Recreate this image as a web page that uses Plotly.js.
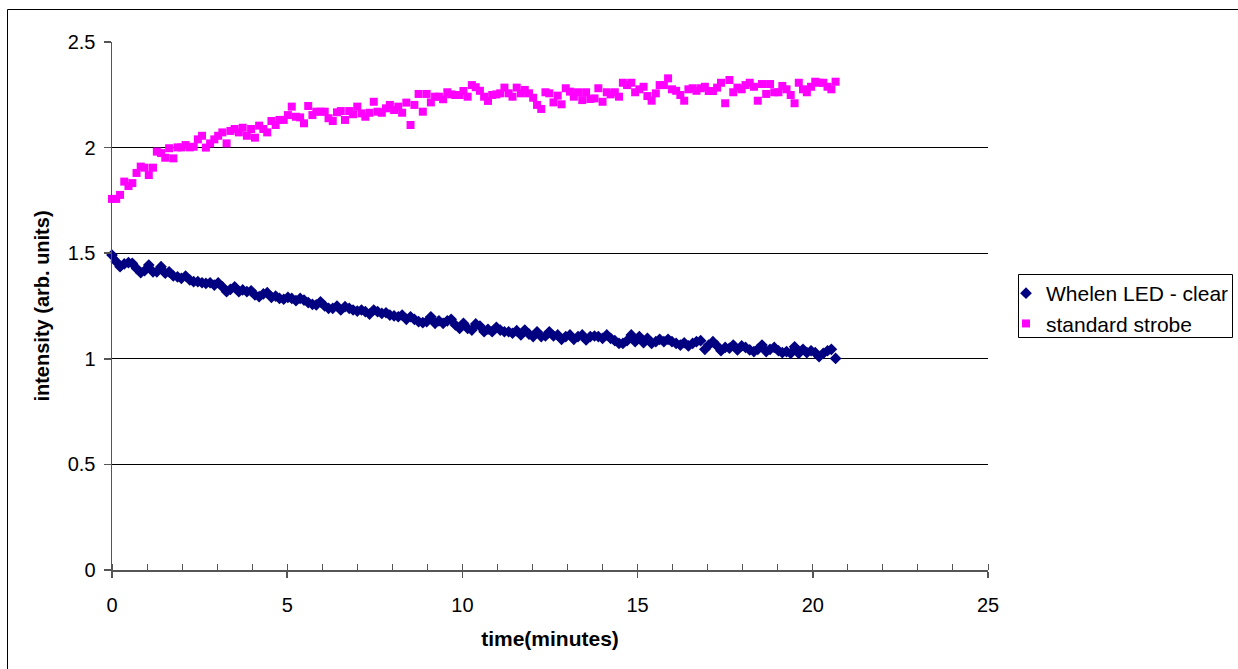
<!DOCTYPE html>
<html>
<head>
<meta charset="utf-8">
<script src="https://cdn.plot.ly/plotly-3.0.1.min.js"></script>
<style>
html,body{margin:0;padding:0;background:#fff;}
#chart{width:1238px;height:669px;}
</style>
</head>
<body>
<div id="chart"></div>
<script>
// time in minutes (one sample every 7 s)
const timeMinutes = [
  0.00,0.12,0.23,0.35,0.47,0.58, 0.70,0.82,0.93,1.05,1.17,1.28,
  1.40,1.52,1.63,1.75,1.87,1.98, 2.10,2.22,2.33,2.45,2.57,2.68,
  2.80,2.92,3.03,3.15,3.27,3.38, 3.50,3.62,3.73,3.85,3.97,4.08,
  4.20,4.32,4.43,4.55,4.67,4.78, 4.90,5.02,5.13,5.25,5.37,5.48,
  5.60,5.72,5.83,5.95,6.07,6.18, 6.30,6.42,6.53,6.65,6.77,6.88,
  7.00,7.12,7.23,7.35,7.47,7.58, 7.70,7.82,7.93,8.05,8.17,8.28,
  8.40,8.52,8.63,8.75,8.87,8.98, 9.10,9.22,9.33,9.45,9.57,9.68,
  9.80,9.92,10.03,10.15,10.27,10.38, 10.50,10.62,10.73,10.85,10.97,11.08,
  11.20,11.32,11.43,11.55,11.67,11.78, 11.90,12.02,12.13,12.25,12.37,12.48,
  12.60,12.72,12.83,12.95,13.07,13.18, 13.30,13.42,13.53,13.65,13.77,13.88,
  14.00,14.12,14.23,14.35,14.47,14.58, 14.70,14.82,14.93,15.05,15.17,15.28,
  15.40,15.52,15.63,15.75,15.87,15.98, 16.10,16.22,16.33,16.45,16.57,16.68,
  16.80,16.92,17.03,17.15,17.27,17.38, 17.50,17.62,17.73,17.85,17.97,18.08,
  18.20,18.32,18.43,18.55,18.67,18.78, 18.90,19.02,19.13,19.25,19.37,19.48,
  19.60,19.72,19.83,19.95,20.07,20.18, 20.30,20.42,20.53,20.65
];

const ledName = "Whelen LED - clear";
const ledIntensity = [
  1.491,1.460,1.436,1.449,1.455,1.452,1.428,1.408,1.417,1.444,
  1.412,1.412,1.436,1.405,1.412,1.392,1.388,1.381,1.392,1.373,
  1.365,1.365,1.360,1.357,1.360,1.349,1.360,1.341,1.318,1.329,
  1.341,1.318,1.326,1.318,1.322,1.302,1.294,1.307,1.313,1.291,
  1.297,1.286,1.282,1.291,1.286,1.275,1.286,1.278,1.266,1.258,
  1.255,1.270,1.250,1.239,1.239,1.250,1.231,1.247,1.239,1.231,
  1.226,1.231,1.223,1.212,1.231,1.223,1.215,1.218,1.207,1.203,
  1.199,
  1.207,1.187,1.199,1.187,1.176,1.171,1.176,1.199,1.168,1.180,
  1.168,1.180,1.187,1.160,1.144,1.168,1.144,1.136,1.165,1.155,
  1.128,1.140,1.128,1.149,1.136,1.128,1.128,1.121,1.133,1.113,
  1.136,1.117,1.105,1.128,1.105,1.108,1.128,1.108,1.113,1.092,
  1.105,1.113,1.092,1.105,1.113,1.089,1.105,1.108,
  1.105,1.097,1.113,1.097,1.086,1.073,1.073,1.086,1.113,1.081,
  1.105,1.076,1.097,1.073,1.081,1.092,1.081,1.092,1.081,1.073,
  1.065,1.076,1.061,1.073,1.081,1.086,1.045,1.065,1.081,1.061,
  1.038,1.054,1.050,1.065,1.042,1.061,1.054,1.042,1.034,1.045,
  1.065,1.034,1.045,1.054,1.038,1.029,1.034,1.026,1.057,1.026,
  1.045,1.029,1.038,1.029,1.010,1.026,1.038,1.045,1.002
];

const strobeName = "standard strobe";
const strobeIntensity = [
  1.757,1.757,1.776,1.839,1.818,1.832,1.880,1.910,1.905,1.870,
  1.905,1.981,1.974,1.952,1.997,1.949,2.001,2.001,2.012,2.001,
  2.004,2.039,2.056,2.000,2.020,2.039,2.056,2.072,2.020,2.079,
  2.088,2.072,2.094,2.056,2.088,2.047,2.104,2.088,2.072,2.126,
  2.107,2.131,2.131,2.154,2.194,2.146,2.143,2.115,2.197,2.154,
  2.170,2.170,2.170,2.139,2.126,2.167,2.173,2.131,2.173,2.158,
  2.194,2.162,2.146,2.165,2.217,2.170,2.165,2.186,2.202,2.178,
  2.194,2.165,2.213,2.107,2.202,2.254,2.170,2.254,2.214,2.241,
  2.241,2.229,2.262,2.252,2.249,2.249,2.268,2.241,2.296,2.286,
  2.269,2.241,2.221,2.249,2.252,2.257,2.284,2.257,2.241,2.284,
  2.257,2.273,2.257,2.236,2.202,2.183,2.262,2.257,2.214,2.246,
  2.205,2.281,2.265,2.241,2.262,2.225,2.262,2.230,2.233,2.281,
  2.217,2.262,2.252,2.262,2.241,2.307,2.296,2.307,2.262,2.276,
  2.288,2.244,2.222,2.257,2.296,2.296,2.328,2.276,2.269,2.249,
  2.222,2.276,2.281,2.269,2.281,2.288,2.268,2.268,2.284,2.307,
  2.210,2.320,2.262,2.284,2.276,2.296,2.307,2.288,2.222,2.301,
  2.254,2.301,2.262,2.262,2.292,2.276,2.249,2.210,2.307,2.276,
  2.262,2.288,2.312,2.307,2.307,2.288,2.276,2.312
];

const xTickValues = [0, 5, 10, 15, 20, 25];
const yTickValues = [0, 0.5, 1, 1.5, 2, 2.5];
const xTitle = "time(minutes)";
const yTitle = "intensity (arb. units)";

const FONT = "Liberation Sans, Arial, sans-serif";

const traces = [
  {
    type: "scatter", mode: "markers", name: ledName,
    x: timeMinutes, y: ledIntensity,
    marker: {symbol: "diamond", color: "#000080", size: 9, line: {width: 0}},
    cliponaxis: false
  },
  {
    type: "scatter", mode: "markers", name: strobeName,
    x: timeMinutes, y: strobeIntensity,
    marker: {symbol: "square", color: "#FF00FF", size: 8, line: {width: 0}},
    cliponaxis: false
  }
];

const L = 112, R = 988, T = 42, B = 570, W = 1238, H = 669;
const pw = R - L, ph = B - T;
const px = v => (v - L) / pw;
const py = v => (B - v) / ph;

const layout = {
  width: W, height: H,
  margin: {l: L, r: W - R, t: T, b: H - B, pad: 0, autoexpand: false},
  paper_bgcolor: "#ffffff",
  plot_bgcolor: "#ffffff",
  font: {family: FONT, size: 20, color: "#000"},
  showlegend: true,
  legend: {
    x: px(1006), y: py(273), xanchor: "left", yanchor: "top",
    borderwidth: 0, bgcolor: "rgba(0,0,0,0)",
    font: {family: FONT, size: 21, color: "#000"},
    itemwidth: 30, tracegroupgap: 0
  },
  xaxis: {
    range: [0, 25], tickvals: xTickValues, ticktext: xTickValues.map(String),
    showgrid: false, zeroline: false,
    showline: true, linecolor: "#555", linewidth: 1.5,
    ticks: "outside", ticklen: 6, tickcolor: "#555", tickwidth: 1.5,
    ticklabelstandoff: 10,
    minor: {dtick: 1, ticks: "inside", ticklen: 6, tickcolor: "#555", tickwidth: 1, showgrid: false},
    tickfont: {family: FONT, size: 20, color: "#000"},
    title: {text: xTitle, font: {family: FONT, size: 21, color: "#000", weight: "bold"}, standoff: 17},
    fixedrange: true
  },
  yaxis: {
    range: [0, 2.5], tickvals: yTickValues, ticktext: ["0", "0.5", "1", "1.5", "2", "2.5"],
    showgrid: true, gridcolor: "#000", gridwidth: 1,
    zeroline: false,
    showline: true, linecolor: "#555", linewidth: 1.5,
    ticks: "outside", ticklen: 7, tickcolor: "#555", tickwidth: 1.5,
    ticklabelstandoff: 4,
    tickfont: {family: FONT, size: 20, color: "#000"},
    title: {text: yTitle, font: {family: FONT, size: 20, color: "#000", weight: "bold"}, standoff: 12},
    fixedrange: true
  },
  shapes: [
    {type: "rect", xref: "paper", yref: "paper",
     x0: px(7.5), x1: px(1260), y0: py(690), y1: py(9.5),
     line: {color: "#000", width: 1}, fillcolor: "rgba(0,0,0,0)", layer: "below"},
    {type: "rect", xref: "paper", yref: "paper",
     x0: px(1018.5), x1: px(1232.5), y0: py(337.5), y1: py(274.5),
     line: {color: "#000", width: 1}, fillcolor: "rgba(0,0,0,0)", layer: "below"}
  ]
};

Plotly.newPlot("chart", traces, layout, {staticPlot: true, displayModeBar: false});
</script>
</body>
</html>
